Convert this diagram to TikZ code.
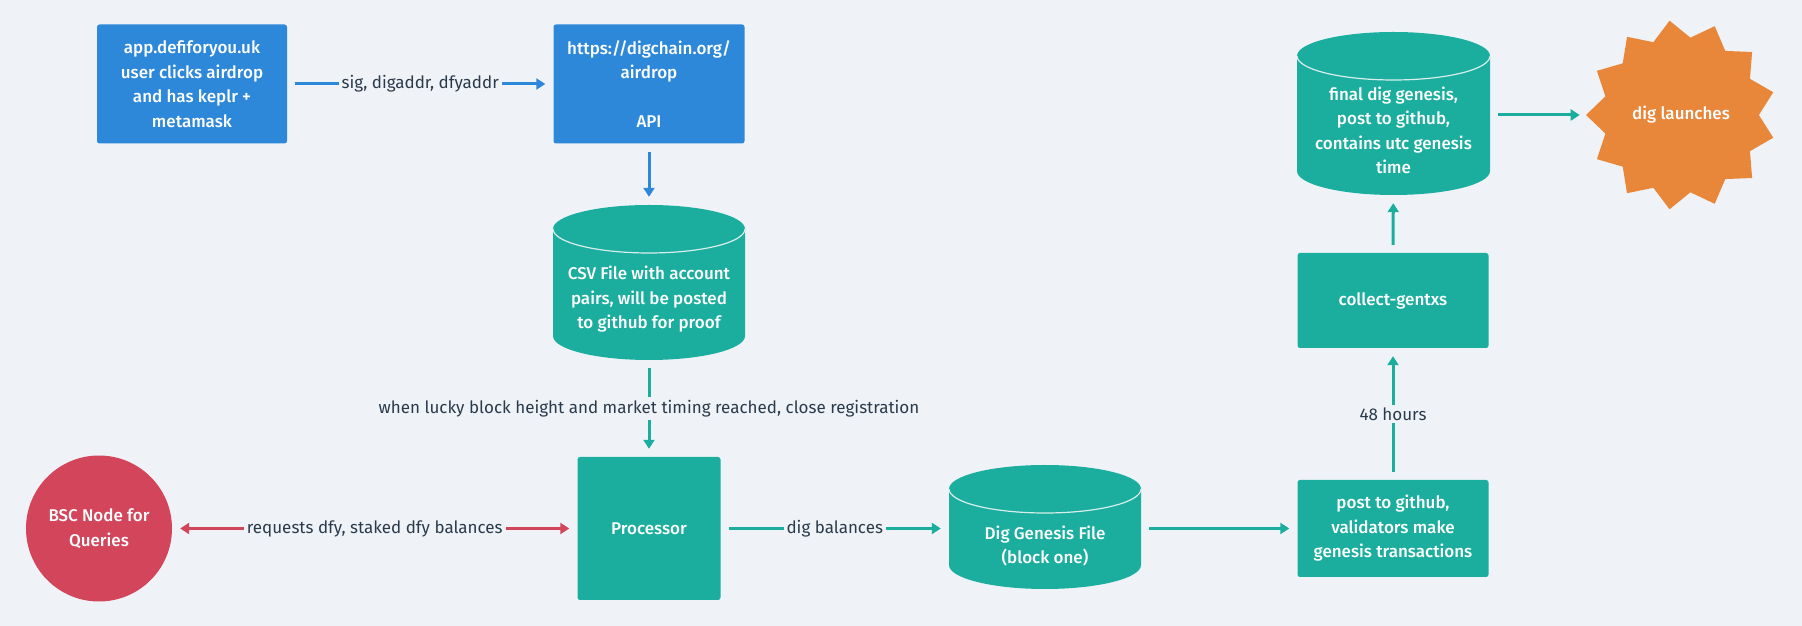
\documentclass[tikz,border=0pt]{standalone}
\usepackage{fontspec}
\setmainfont{Fira Sans}
\newfontfamily\medfont{Fira Sans Medium}
\usetikzlibrary{shapes.geometric,arrows.meta}
\definecolor{bg}{HTML}{EFF3F7}
\definecolor{bluec}{HTML}{2E88DA}
\definecolor{tealc}{HTML}{1BAE9F}
\definecolor{redc}{HTML}{D3455B}
\definecolor{orangec}{HTML}{E8863A}
\definecolor{inkc}{HTML}{2B3A4B}
\definecolor{seamc}{HTML}{D8EEEA}
\tikzset{
  whitetext/.style={text=white, font=\medfont\fontsize{17}{24.5}\selectfont, align=center},
  box/.style={rectangle, rounded corners=2.5pt, inner sep=0pt, whitetext},
  bluebox/.style={box, fill=bluec},
  tealbox/.style={box, fill=tealc},
  cylbox/.style={rectangle, inner sep=0pt},
  cyltext/.style={whitetext, inner sep=0pt},
  tip/.style={-{Triangle[length=9pt,width=11pt]}},
  conn/.style={line width=3pt, tip, shorten >=8pt, shorten <=8pt},
  lbl/.style={fill=bg, text=inkc, font=\fontsize{17}{20}\selectfont, inner sep=3pt}
}
\newcommand\mycyl[7]{%
  \pgfmathsetmacro\hw{#4/2}\pgfmathsetmacro\hh{#5/2}%
  \fill[tealc] (#2-\hw,#3+\hh-24) arc[start angle=180,end angle=0,x radius=\hw,y radius=24]
     -- (#2+\hw,#3-\hh+24) arc[start angle=0,end angle=-180,x radius=\hw,y radius=24] -- cycle;
  \draw[seamc, line width=1.2pt] (#2-\hw,#3+\hh-24) arc[start angle=180,end angle=360,x radius=\hw,y radius=24];
  \node[cylbox, minimum width=#4, minimum height=#5] (#1) at (#2,#3) {};
  \node[cyltext] (#1-t) at (#2,#3-#6) {#7};
}
\begin{document}
\begin{tikzpicture}[x=1pt,y=1pt]
\fill[bg] (0,0) rectangle (1802,626);
\useasboundingbox (0,0) rectangle (1802,626);

% top row
\node[bluebox, minimum width=190, minimum height=119] (site) at (192,542)
  {app.defiforyou.uk\\user clicks airdrop\\and has keplr +\\metamask};
\node[bluebox, minimum width=191, minimum height=119] (api) at (649,542)
  {https://digchain.org/\\airdrop\\\mbox{}\\API};

% cylinders
\mycyl{csv}{649}{343.5}{192}{155}{17}{CSV File with account\\pairs, will be posted\\to github for proof}
\mycyl{dig}{1045}{99}{192}{124}{19}{Dig Genesis File\\(block one)}
\mycyl{fin}{1393.5}{512.5}{193}{163}{17}{final dig genesis,\\post to github,\\contains utc genesis\\time}

% bottom row
\node[circle, fill=redc, minimum size=146, inner sep=0pt, whitetext] (bsc) at (99,97.5)
  {BSC Node for\\Queries};
\node[tealbox, minimum width=143, minimum height=143] (proc) at (649,97.5) {Processor};
\node[tealbox, minimum width=191, minimum height=97] (post) at (1393,97.5)
  {post to github,\\validators make\\genesis transactions};
\node[tealbox, minimum width=191, minimum height=95] (coll) at (1393,325.5) {collect-gentxs};

\node[star, star points=13, star point ratio=1.22, minimum size=190, inner sep=0pt,
  shape border rotate=6.92, fill=orangec, whitetext] (launch) at (1681,511) {dig launches};

% connectors
\draw[conn, bluec] (site) -- node[lbl] {sig, digaddr, dfyaddr} (api);
\draw[conn, bluec] (api) -- (csv);
\draw[conn, tealc] (csv) -- node[lbl] {when lucky block height and market timing reached, close registration} (proc);
\draw[conn, redc, {Triangle[length=9pt,width=11pt]}-{Triangle[length=9pt,width=11pt]}] (bsc) -- node[lbl] {requests dfy, staked dfy balances} (proc);
\draw[conn, tealc] (proc.east) -- node[lbl] {dig balances} (dig.west |- proc.east);
\draw[conn, tealc] (dig.east |- post.west) -- (post.west);
\draw[conn, tealc] (post) -- node[lbl] {48 hours} (coll);
\draw[conn, tealc] (coll) -- (fin);
\draw[conn, tealc, shorten >=6pt] (fin.east |- launch.west) -- (launch.west);
\end{tikzpicture}
\end{document}
